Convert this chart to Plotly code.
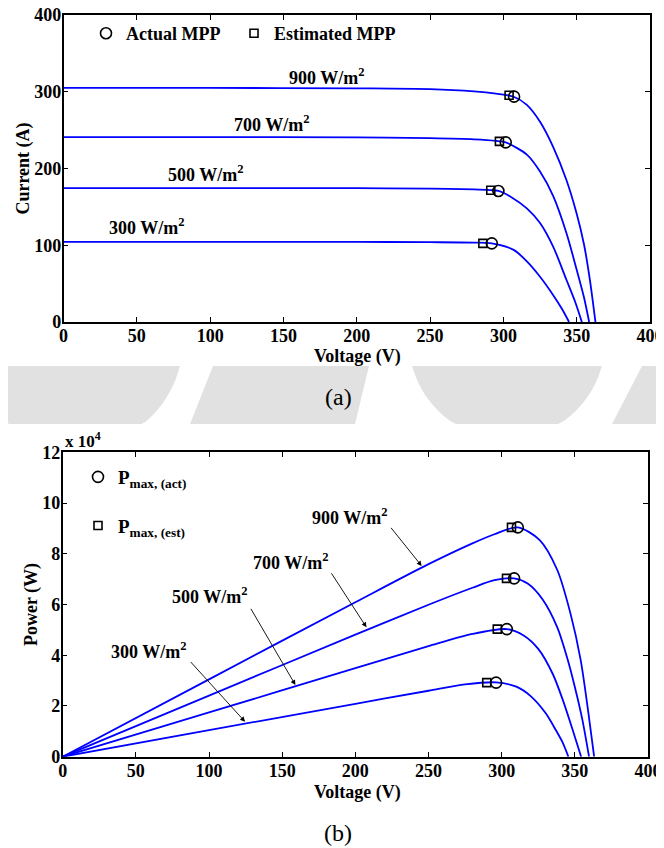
import math
import plotly.graph_objects as go

# ---------------- data ----------------
irradiance_labels = ["900 W/m<sup>2</sup>", "700 W/m<sup>2</sup>", "500 W/m<sup>2</sup>", "300 W/m<sup>2</sup>"]

# (a) I-V curves: voltage (V) / current (A)
iv_v_900 = [0, 100, 200, 250, 280, 295, 307, 316, 325, 334, 343, 350, 355, 359, 362.8]
iv_i_900 = [305, 305, 304.5, 303.5, 300.5, 297.5, 293.5, 283, 261, 228, 185, 141, 101, 55, 0]
iv_v_700 = [0, 100, 200, 250, 280, 295, 301.6, 316, 325, 334, 343, 350, 355, 358.5]
iv_i_700 = [241, 241, 240.5, 239.5, 238, 236, 234, 218, 196, 164, 116, 68, 32, 0]
iv_v_500 = [0, 100, 200, 250, 280, 291, 296.6, 306, 316, 325, 334, 343, 349, 353.5]
iv_i_500 = [174.5, 174.5, 174.3, 173.8, 172.8, 171.8, 170.7, 162, 148, 129, 98, 55, 26, 0]
iv_v_300 = [0, 100, 200, 250, 280, 292, 307, 316, 325, 334, 340, 344.8]
iv_i_300 = [104.5, 104.5, 104.3, 104, 103.5, 102.5, 94, 79, 59, 35, 17, 0]

mpp_act_v = [307.3, 301.6, 296.6, 292.1]
mpp_act_i = [293.6, 234.1, 170.7, 102.5]
mpp_est_v = [303.9, 297.3, 291.4, 286.0]
mpp_est_i = [295.4, 235.4, 171.6, 102.5]

# (b) P-V curves: voltage (V) / power (x 10^4 W)
pv_v_900 = [0, 100, 200, 250, 280, 295, 311, 326, 338, 347, 354, 359.3, 363.2]
pv_p_900 = [0, 3.05, 6.09, 7.59, 8.41, 8.77, 9.04, 8.54, 7.36, 5.65, 3.81, 1.71, 0]
pv_v_700 = [0, 100, 200, 250, 280, 295, 308.5, 318, 328, 338, 345, 350, 355, 359.7]
pv_p_700 = [0, 2.41, 4.81, 5.99, 6.66, 6.96, 7.03, 6.82, 6.2, 5.1, 3.85, 2.75, 1.5, 0]
pv_v_500 = [0, 100, 200, 250, 280, 303.5, 315, 325, 335, 342, 348, 354.3]
pv_p_500 = [0, 1.745, 3.49, 4.36, 4.84, 5.03, 4.78, 4.25, 3.25, 2.2, 1.15, 0]
pv_v_300 = [0, 100, 200, 250, 275, 296, 310, 320, 330, 337, 342, 345.6]
pv_p_300 = [0, 1.045, 2.086, 2.6, 2.85, 2.93, 2.76, 2.38, 1.72, 1.05, 0.52, 0]

pmax_act_v = [311, 308.5, 303.5, 296.2]
pmax_act_p = [9.04, 7.03, 5.03, 2.92]
pmax_est_v = [306.7, 303.3, 297.0, 289.8]
pmax_est_p = [9.04, 7.03, 5.03, 2.92]

# ---------------- figure ----------------
# the page body adds an 8 px margin round the figure
OFF = 8
W, H = 664 - OFF, 848 - OFF
FONT = "Liberation Serif, Times New Roman, serif"
BLUE = "#0000ff"

def X(px):
    return (px - OFF) / W

def Y(py):
    return 1 - (py - OFF) / H

fig = go.Figure()

iv_series = [(iv_v_900, iv_i_900), (iv_v_700, iv_i_700), (iv_v_500, iv_i_500), (iv_v_300, iv_i_300)]
pv_series = [(pv_v_900, pv_p_900), (pv_v_700, pv_p_700), (pv_v_500, pv_p_500), (pv_v_300, pv_p_300)]

for (v, i), lab in zip(iv_series, irradiance_labels):
    fig.add_trace(go.Scatter(x=v, y=i, mode="lines", line=dict(color=BLUE, width=1.8, shape="spline", smoothing=0.8),
                             showlegend=False, name=lab, xaxis="x", yaxis="y"))
for (v, p), lab in zip(pv_series, irradiance_labels):
    fig.add_trace(go.Scatter(x=v, y=p, mode="lines", line=dict(color=BLUE, width=1.8, shape="spline", smoothing=0.8),
                             showlegend=False, name=lab, xaxis="x2", yaxis="y2"))

circ = dict(symbol="circle-open", size=11, color="black", line=dict(width=1.6, color="black"))
sq = dict(symbol="square-open", size=8, color="black", line=dict(width=1.6, color="black"))

fig.add_trace(go.Scatter(x=mpp_act_v, y=mpp_act_i, mode="markers", marker=circ, name="<b>Actual MPP</b>",
                         xaxis="x", yaxis="y", legend="legend"))
fig.add_trace(go.Scatter(x=mpp_est_v, y=mpp_est_i, mode="markers", marker=sq, name="<b>Estimated MPP</b>",
                         xaxis="x", yaxis="y", legend="legend3"))
fig.add_trace(go.Scatter(x=pmax_est_v, y=pmax_est_p, mode="markers", marker=sq,
                         name="<b>P</b><sub><b>max, (est)</b></sub>", xaxis="x2", yaxis="y2",
                         legend="legend2", legendgroup="est", legendrank=2))
fig.add_trace(go.Scatter(x=pmax_act_v, y=pmax_act_p, mode="markers", marker=circ,
                         name="<b>P</b><sub><b>max, (act)</b></sub>", xaxis="x2", yaxis="y2",
                         legend="legend2", legendgroup="act", legendrank=1))

tickfont = dict(family=FONT, size=18, color="black", weight="bold")
titlefont = dict(family=FONT, size=18, color="black", weight="bold")
axis_common = dict(showline=True, linecolor="black", linewidth=1.5, mirror="ticks", ticks="inside",
                   ticklen=5, tickwidth=1, tickcolor="black", showgrid=False, zeroline=False,
                   tickfont=tickfont, automargin=False, ticklabeloverflow="allow")
legend_font = dict(family=FONT, size=18, color="black")

fig.update_layout(
    template="none",
    width=W, height=H, margin=dict(l=0, r=0, t=0, b=0, autoexpand=False),
    font=dict(family=FONT, color="black"),
    paper_bgcolor="white", plot_bgcolor="white",
    xaxis=dict(axis_common, domain=[X(63.5), X(650)], range=[0, 400], dtick=50, anchor="y",
               ticklabelstandoff=-3),
    yaxis=dict(axis_common, domain=[Y(322), Y(15)], range=[0, 400], dtick=100, anchor="x",
               ticklabelstandoff=-3,
               title=dict(text="Current (A)", font=titlefont, standoff=0)),
    xaxis2=dict(axis_common, domain=[X(62.7), X(648)], range=[0, 400], dtick=50, anchor="y2",
                ticklabelstandoff=-3),
    yaxis2=dict(axis_common, domain=[Y(756.7), Y(452.3)], range=[0, 12], dtick=2, anchor="x2",
                ticklabelstandoff=-3,
                title=dict(text="Power (W)", font=titlefont, standoff=0)),
    legend=dict(x=X(86), y=Y(15), xanchor="left", yanchor="top",
                bgcolor="rgba(0,0,0,0)", font=legend_font, itemwidth=30),
    legend3=dict(x=X(234), y=Y(15), xanchor="left", yanchor="top",
                 bgcolor="rgba(0,0,0,0)", font=legend_font, itemwidth=30),
    legend2=dict(orientation="v", x=X(78), y=Y(458), xanchor="left", yanchor="top",
                 bgcolor="rgba(0,0,0,0)", font=dict(family=FONT, size=19, color="black"),
                 tracegroupgap=21, itemwidth=30),
)

# x-axis titles
for ax_x, ax_y in [(357.5, 356.5), (357, 792)]:
    fig.add_annotation(x=X(ax_x), y=Y(ax_y), xref="paper", yref="paper", xanchor="center", yanchor="middle",
                       text="<b>Voltage (V)</b>", showarrow=False, font=titlefont)

# curve labels on (a)
iv_label_v = [179.3, 141.7, 96.9, 56.4]
iv_label_i = [319.6, 258, 193.8, 125]
for lab, v, i in zip(irradiance_labels, iv_label_v, iv_label_i):
    fig.add_annotation(x=v, y=i, xref="x", yref="y", xanchor="center", yanchor="middle",
                       text=f"<b>{lab}</b>", showarrow=False, font=dict(family=FONT, size=18, color="black"))

# curve labels and arrows on (b)
pv_label_v = [196.1, 155.4, 100.5, 58.5]
pv_label_p = [9.46, 7.68, 6.35, 4.2]
arrow_tail_v = [223.6, 183, 128, 86.6]
arrow_tail_p = [9.08, 7.29, 5.89, 3.79]
arrow_head_v = [245.3, 207.6, 159, 124.6]
arrow_head_p = [7.52, 5.1, 2.83, 1.38]
for lab, lv, lp in zip(irradiance_labels, pv_label_v, pv_label_p):
    fig.add_annotation(x=lv, y=lp, xref="x2", yref="y2", xanchor="center", yanchor="middle",
                       text=f"<b>{lab}</b>", showarrow=False, font=dict(family=FONT, size=18, color="black"))
for tv, tp, hv, hp in zip(arrow_tail_v, arrow_tail_p, arrow_head_v, arrow_head_p):
    fig.add_annotation(x=hv, y=hp, xref="x2", yref="y2", ax=tv, ay=tp, axref="x2", ayref="y2",
                       text="", showarrow=True, arrowhead=2, arrowsize=1.1, arrowwidth=0.9,
                       arrowcolor="black", standoff=0)

# exponent label and captions
fig.add_annotation(x=X(63), y=Y(453), xref="paper", yref="paper", xanchor="left", yanchor="bottom",
                   text="<b>x 10<sup>4</sup></b>", showarrow=False, font=dict(family=FONT, size=17, color="black"))
fig.add_annotation(x=X(338), y=Y(397), xref="paper", yref="paper", xanchor="center", yanchor="middle",
                   text="(a)", showarrow=False, font=dict(family=FONT, size=24, color="black"))
fig.add_annotation(x=X(338), y=Y(833), xref="paper", yref="paper", xanchor="center", yanchor="middle",
                   text="(b)", showarrow=False, font=dict(family=FONT, size=24, color="black"))

# light-grey watermark band between the panels (decoration)
GREY = "#e1e1e1"
YT, YB = 366, 424

def path_from(points):
    return "M " + " L ".join(f"{X(px):.5f},{Y(py):.5f}" for px, py in points) + " Z"

def cap(cx, cy, r, n=48):
    t0 = math.asin((YT - cy) / r)
    t1 = math.pi - t0
    pts = []
    for k in range(n + 1):
        t = t0 + (t1 - t0) * k / n
        px = max(OFF, min(664, cx + r * math.cos(t)))
        py = min(YB, cy + r * math.sin(t))
        pts.append((px, py))
    return pts

shapes = [
    path_from(cap(75, 340, 108)),
    path_from([(213, YT), (369, YT), (355, YB), (190, YB)]),
    path_from(cap(507, 341, 98)),
    path_from([(642, YT), (664, YT), (664, YB), (612, YB)]),
]
for s in shapes:
    fig.add_shape(type="path", path=s, xref="paper", yref="paper", fillcolor=GREY,
                  line=dict(width=0), layer="below")

fig.write_html("out.html")
